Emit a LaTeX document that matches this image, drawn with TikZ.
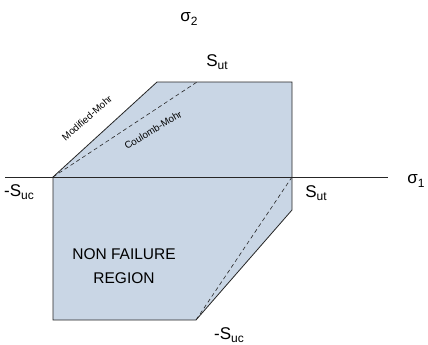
\documentclass[tikz,border=0pt]{standalone}
\usepackage{fontspec}
\setmainfont{Liberation Sans}
\definecolor{regionfill}{HTML}{C9D6E5}
\newcommand{\lowsub}[1]{\raisebox{-0.22em}{\fontsize{12}{12}\selectfont #1}}
\begin{document}
\begin{tikzpicture}[x=1pt,y=-1pt,
  edge/.style={draw=black!85,line width=0.8pt},
  dashedge/.style={draw=black!85,line width=0.6pt,dash pattern=on 4pt off 3pt},
  lbl/.style={font=\fontsize{17}{20}\selectfont,inner sep=0pt},
  small/.style={font=\fontsize{9.8}{11}\selectfont,inner sep=0pt}]
\useasboundingbox (0,0) rectangle (428,345);
% region corners
\coordinate (ll) at (53,177);
\coordinate (tl) at (157,82);
\coordinate (tr) at (292,82);
\coordinate (rr) at (292,177);
\coordinate (rl) at (292,210);
\coordinate (bb) at (196,320);
\coordinate (bl) at (53,320);
\coordinate (cmt) at (197,82);
\coordinate (ax0) at (5,177);
\coordinate (ax1) at (388,177);
\fill[regionfill] (ll) -- (tl) -- (tr) -- (rl) -- (bb) -- (bl) -- cycle;
\draw[edge] (ll) -- (tl) -- (tr) -- (rl) -- (bb) -- (bl) -- cycle;
\draw[dashedge] (ll) -- (cmt);
\draw[dashedge] (rr) -- (bb);
\draw[edge] (ax0) -- (ax1);
% labels
\node[lbl] (s2) at (189,19) {σ\lowsub{2}};
\node[lbl] (sut1) at (217,62) {S\lowsub{ut}};
\node[lbl] (s1) at (416,181) {σ\lowsub{1}};
\node[lbl] (suc1) at (19,192) {-S\lowsub{uc}};
\node[lbl] (sut2) at (316,193) {S\lowsub{ut}};
\node[lbl] (suc2) at (229,335) {-S\lowsub{uc}};
\node[lbl,align=center,font=\fontsize{15.5}{24}\selectfont] (nfr) at (124,266) {NON FAILURE\\REGION};
\node[small,rotate=41] (mm) at (87,118) {Modified-Mohr};
\node[small,rotate=31] (cm) at (153,130) {Coulomb-Mohr};
\end{tikzpicture}
\end{document}
